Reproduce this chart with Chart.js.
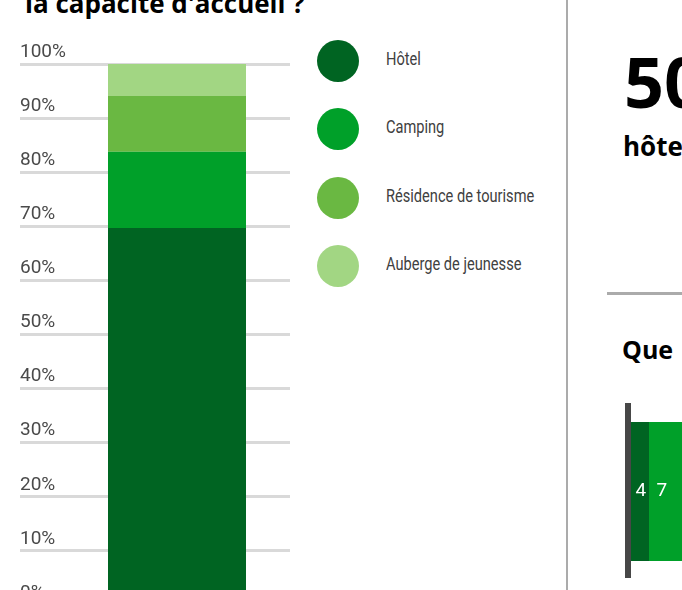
<!DOCTYPE html>
<html>
<head>
<meta charset="utf-8">
<script src="https://cdn.jsdelivr.net/npm/chart.js@4.4.1/dist/chart.umd.min.js"></script>
<style>
  html, body { margin: 0; padding: 0; background: #fff; }
  body { width: 682px; height: 590px; overflow: hidden; position: relative; font-family: "Open Sans", sans-serif; }
  .abs { position: absolute; white-space: nowrap; }
  #title { left: 25px; top: -10px; font-size: 26px; line-height: 26px; font-weight: 700; color: #000; }
  #mainWrap { left: 0; top: 24px; width: 290px; height: 601px; }
  #legend { left: 317px; top: 26.5px; }
  .item { display: flex; align-items: center; height: 68.5px; }
  .dot { width: 42px; height: 42px; border-radius: 50%; flex: none; }
  .lbl { margin-left: 27px; margin-top: -4px; font-family: Roboto, sans-serif; font-size: 18.5px; color: #404040;
         transform: scaleX(0.79); transform-origin: left center; }
  #vline { left: 566px; top: 0; width: 2px; height: 590px; background: #ababab; }
  #hline { left: 607px; top: 292px; width: 80px; height: 3px; background: #ababab; }
  #big { left: 624px; top: 46px; font-size: 70px; line-height: 70px; font-weight: 700; color: #000; }
  #sub { left: 623px; top: 133px; font-size: 26px; line-height: 26px; font-weight: 700; color: #000; }
  #que { left: 622px; top: 337px; font-size: 25px; line-height: 25px; font-weight: 700; color: #000; }
  #qWrap { left: 610px; top: 396px; width: 543px; height: 200px; }
</style>
</head>
<body>
<div id="title" class="abs">la capacité d'accueil ?</div>
<div id="mainWrap" class="abs"><canvas id="mainChart"></canvas></div>
<div id="legend" class="abs"></div>
<div id="vline" class="abs"></div>
<div id="big" class="abs">50</div>
<div id="sub" class="abs">hôte</div>
<div id="hline" class="abs"></div>
<div id="que" class="abs">Que</div>
<div id="qWrap" class="abs"><canvas id="qChart"></canvas></div>

<script>
// capacité d'accueil, share of each type (%)
const categories = ["Capacité d'accueil"];
const typeNames = ["Hôtel", "Camping", "Résidence de tourisme", "Auberge de jeunesse"];
const typeColors = ["#006422", "#00a029", "#6ab842", "#a2d683"];
const shareHotel = [69.7];
const shareCamping = [14.1];
const shareResidence = [10.3];
const shareAuberge = [5.9];
const yTicks = [0, 10, 20, 30, 40, 50, 60, 70, 80, 90, 100];

// right panel, partly visible bar
const qCategories = ["Que"];
const qValues = [[4], [7]];
const qColors = ["#006422", "#00a029"];

const tickFont = "Roboto, sans-serif";

const mainChart = new Chart(document.getElementById("mainChart"), {
  type: "bar",
  data: {
    labels: categories,
    datasets: [shareHotel, shareCamping, shareResidence, shareAuberge].map((vals, i) => ({
      label: typeNames[i],
      data: vals,
      backgroundColor: typeColors[i],
      borderWidth: 0,
      barPercentage: 0.6106,
      categoryPercentage: 1
    }))
  },
  options: {
    responsive: true,
    maintainAspectRatio: false,
    animation: false,
    layout: { padding: { left: 20, top: 40, right: 0, bottom: 20 } },
    plugins: { legend: { display: false }, tooltip: { enabled: false } },
    scales: {
      x: { stacked: true, display: false },
      y: {
        stacked: true,
        min: 0,
        max: 100,
        afterBuildTicks: (s) => { s.ticks = yTicks.map(v => ({ value: v })); },
        afterFit: (s) => { s.width = 44; },
        border: { display: false },
        grid: { color: "#d9d9d9", lineWidth: 3, tickLength: 44, drawTicks: true },
        ticks: {
          mirror: true,
          crossAlign: "near",
          padding: -44,
          labelOffset: -12,
          color: "#4a4a4a",
          font: { family: tickFont, size: 19 },
          callback: (v) => v + "%"
        }
      }
    }
  }
});

// legend built from the chart's datasets
const legend = document.getElementById("legend");
mainChart.data.datasets.forEach(ds => {
  const row = document.createElement("div");
  row.className = "item";
  row.innerHTML = `<div class="dot" style="background:${ds.backgroundColor}"></div><div class="lbl">${ds.label}</div>`;
  legend.appendChild(row);
});

// value labels at the start of each segment
const startLabels = {
  id: "startLabels",
  afterDatasetsDraw(chart) {
    const ctx = chart.ctx;
    ctx.save();
    ctx.fillStyle = "#fff";
    ctx.font = "19px " + tickFont;
    ctx.textAlign = "left";
    ctx.textBaseline = "middle";
    chart.data.datasets.forEach((ds, i) => {
      chart.getDatasetMeta(i).data.forEach((el, j) => {
        ctx.fillText(String(ds.data[j]), el.base + 7.5, el.y);
      });
    });
    ctx.restore();
  }
};

new Chart(document.getElementById("qChart"), {
  type: "bar",
  data: {
    labels: qCategories,
    datasets: qValues.map((vals, i) => ({
      data: vals,
      backgroundColor: qColors[i],
      borderWidth: 0,
      barPercentage: 0.813,
      categoryPercentage: 1
    }))
  },
  options: {
    indexAxis: "y",
    responsive: true,
    maintainAspectRatio: false,
    animation: false,
    layout: { padding: { left: 18, top: 10, right: 0, bottom: 19 } },
    plugins: { legend: { display: false }, tooltip: { enabled: false } },
    scales: {
      x: { stacked: true, min: 0, max: 100, display: false },
      y: {
        stacked: true,
        grid: { display: false, drawTicks: false },
        ticks: { display: false },
        border: { display: true, color: "#474747", width: 6, z: 1 }
      }
    }
  },
  plugins: [startLabels]
});
</script>
</body>
</html>
